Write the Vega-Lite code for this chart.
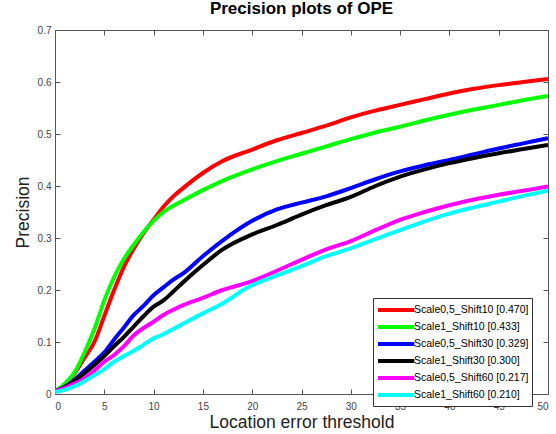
{
  "$schema": "https://vega.github.io/schema/vega-lite/v6.json",
  "autosize": "none",
  "width": 493,
  "height": 364,
  "padding": {"left": 55, "top": 30, "right": 8, "bottom": 40},
  "background": "white",
  "title": {"text": "Precision plots of OPE", "fontSize": 17, "fontWeight": "bold", "font": "Liberation Sans", "color": "#000", "offset": 7, "anchor": "middle"},
  "config": {
    "view": {"stroke": null},
    "font": "Liberation Sans",
    "axis": {"grid": false, "domainColor": "#555", "tickColor": "#555", "labelColor": "#444", "labelFont": "Liberation Sans", "labelFontSize": 10, "titleFont": "Liberation Sans", "titleFontWeight": "normal", "titleFontSize": 17.5, "titleColor": "#222", "tickSize": -5, "domainWidth": 1}
  },
  "data": {"values": [
    {"s":"Scale0,5_Shift10 [0.470]","x":0,"y":0.005},{"s":"Scale0,5_Shift10 [0.470]","x":1,"y":0.018},{"s":"Scale0,5_Shift10 [0.470]","x":2,"y":0.04},{"s":"Scale0,5_Shift10 [0.470]","x":3,"y":0.07},{"s":"Scale0,5_Shift10 [0.470]","x":4,"y":0.1},{"s":"Scale0,5_Shift10 [0.470]","x":5,"y":0.15},{"s":"Scale0,5_Shift10 [0.470]","x":6,"y":0.2},{"s":"Scale0,5_Shift10 [0.470]","x":7,"y":0.245},{"s":"Scale0,5_Shift10 [0.470]","x":8,"y":0.28},{"s":"Scale0,5_Shift10 [0.470]","x":9,"y":0.31},{"s":"Scale0,5_Shift10 [0.470]","x":10,"y":0.335},{"s":"Scale0,5_Shift10 [0.470]","x":11,"y":0.36},{"s":"Scale0,5_Shift10 [0.470]","x":12,"y":0.38},{"s":"Scale0,5_Shift10 [0.470]","x":13,"y":0.396},{"s":"Scale0,5_Shift10 [0.470]","x":15,"y":0.425},{"s":"Scale0,5_Shift10 [0.470]","x":17,"y":0.448},{"s":"Scale0,5_Shift10 [0.470]","x":20,"y":0.47},{"s":"Scale0,5_Shift10 [0.470]","x":22.5,"y":0.488},{"s":"Scale0,5_Shift10 [0.470]","x":25,"y":0.502},{"s":"Scale0,5_Shift10 [0.470]","x":27.5,"y":0.516},{"s":"Scale0,5_Shift10 [0.470]","x":30,"y":0.532},{"s":"Scale0,5_Shift10 [0.470]","x":32.5,"y":0.545},{"s":"Scale0,5_Shift10 [0.470]","x":35,"y":0.556},{"s":"Scale0,5_Shift10 [0.470]","x":37.5,"y":0.567},{"s":"Scale0,5_Shift10 [0.470]","x":40,"y":0.578},{"s":"Scale0,5_Shift10 [0.470]","x":42.5,"y":0.587},{"s":"Scale0,5_Shift10 [0.470]","x":45,"y":0.594},{"s":"Scale0,5_Shift10 [0.470]","x":47.5,"y":0.6},{"s":"Scale0,5_Shift10 [0.470]","x":50,"y":0.606},
    {"s":"Scale1_Shift10 [0.433]","x":0,"y":0.005},{"s":"Scale1_Shift10 [0.433]","x":1,"y":0.02},{"s":"Scale1_Shift10 [0.433]","x":2,"y":0.042},{"s":"Scale1_Shift10 [0.433]","x":3,"y":0.08},{"s":"Scale1_Shift10 [0.433]","x":4,"y":0.125},{"s":"Scale1_Shift10 [0.433]","x":5,"y":0.18},{"s":"Scale1_Shift10 [0.433]","x":6,"y":0.225},{"s":"Scale1_Shift10 [0.433]","x":7,"y":0.26},{"s":"Scale1_Shift10 [0.433]","x":8,"y":0.287},{"s":"Scale1_Shift10 [0.433]","x":9,"y":0.312},{"s":"Scale1_Shift10 [0.433]","x":10,"y":0.333},{"s":"Scale1_Shift10 [0.433]","x":11,"y":0.35},{"s":"Scale1_Shift10 [0.433]","x":12,"y":0.362},{"s":"Scale1_Shift10 [0.433]","x":13,"y":0.372},{"s":"Scale1_Shift10 [0.433]","x":15,"y":0.392},{"s":"Scale1_Shift10 [0.433]","x":17,"y":0.41},{"s":"Scale1_Shift10 [0.433]","x":20,"y":0.432},{"s":"Scale1_Shift10 [0.433]","x":22.5,"y":0.448},{"s":"Scale1_Shift10 [0.433]","x":25,"y":0.462},{"s":"Scale1_Shift10 [0.433]","x":27.5,"y":0.476},{"s":"Scale1_Shift10 [0.433]","x":30,"y":0.49},{"s":"Scale1_Shift10 [0.433]","x":32.5,"y":0.503},{"s":"Scale1_Shift10 [0.433]","x":35,"y":0.514},{"s":"Scale1_Shift10 [0.433]","x":37.5,"y":0.526},{"s":"Scale1_Shift10 [0.433]","x":40,"y":0.537},{"s":"Scale1_Shift10 [0.433]","x":42.5,"y":0.547},{"s":"Scale1_Shift10 [0.433]","x":45,"y":0.556},{"s":"Scale1_Shift10 [0.433]","x":47.5,"y":0.565},{"s":"Scale1_Shift10 [0.433]","x":50,"y":0.573},
    {"s":"Scale0,5_Shift30 [0.329]","x":0,"y":0.005},{"s":"Scale0,5_Shift30 [0.329]","x":1,"y":0.014},{"s":"Scale0,5_Shift30 [0.329]","x":2,"y":0.028},{"s":"Scale0,5_Shift30 [0.329]","x":3,"y":0.045},{"s":"Scale0,5_Shift30 [0.329]","x":4,"y":0.062},{"s":"Scale0,5_Shift30 [0.329]","x":5,"y":0.08},{"s":"Scale0,5_Shift30 [0.329]","x":6,"y":0.105},{"s":"Scale0,5_Shift30 [0.329]","x":7,"y":0.128},{"s":"Scale0,5_Shift30 [0.329]","x":8,"y":0.152},{"s":"Scale0,5_Shift30 [0.329]","x":9,"y":0.17},{"s":"Scale0,5_Shift30 [0.329]","x":10,"y":0.19},{"s":"Scale0,5_Shift30 [0.329]","x":11,"y":0.205},{"s":"Scale0,5_Shift30 [0.329]","x":12,"y":0.22},{"s":"Scale0,5_Shift30 [0.329]","x":13,"y":0.232},{"s":"Scale0,5_Shift30 [0.329]","x":15,"y":0.265},{"s":"Scale0,5_Shift30 [0.329]","x":17,"y":0.295},{"s":"Scale0,5_Shift30 [0.329]","x":20,"y":0.333},{"s":"Scale0,5_Shift30 [0.329]","x":22.5,"y":0.355},{"s":"Scale0,5_Shift30 [0.329]","x":25,"y":0.368},{"s":"Scale0,5_Shift30 [0.329]","x":27.5,"y":0.38},{"s":"Scale0,5_Shift30 [0.329]","x":30,"y":0.396},{"s":"Scale0,5_Shift30 [0.329]","x":32.5,"y":0.413},{"s":"Scale0,5_Shift30 [0.329]","x":35,"y":0.428},{"s":"Scale0,5_Shift30 [0.329]","x":37.5,"y":0.44},{"s":"Scale0,5_Shift30 [0.329]","x":40,"y":0.45},{"s":"Scale0,5_Shift30 [0.329]","x":42.5,"y":0.461},{"s":"Scale0,5_Shift30 [0.329]","x":45,"y":0.472},{"s":"Scale0,5_Shift30 [0.329]","x":47.5,"y":0.482},{"s":"Scale0,5_Shift30 [0.329]","x":50,"y":0.492},
    {"s":"Scale1_Shift30 [0.300]","x":0,"y":0.005},{"s":"Scale1_Shift30 [0.300]","x":1,"y":0.013},{"s":"Scale1_Shift30 [0.300]","x":2,"y":0.025},{"s":"Scale1_Shift30 [0.300]","x":3,"y":0.04},{"s":"Scale1_Shift30 [0.300]","x":4,"y":0.056},{"s":"Scale1_Shift30 [0.300]","x":5,"y":0.073},{"s":"Scale1_Shift30 [0.300]","x":6,"y":0.092},{"s":"Scale1_Shift30 [0.300]","x":7,"y":0.11},{"s":"Scale1_Shift30 [0.300]","x":8,"y":0.13},{"s":"Scale1_Shift30 [0.300]","x":9,"y":0.15},{"s":"Scale1_Shift30 [0.300]","x":10,"y":0.168},{"s":"Scale1_Shift30 [0.300]","x":11,"y":0.18},{"s":"Scale1_Shift30 [0.300]","x":12,"y":0.197},{"s":"Scale1_Shift30 [0.300]","x":13,"y":0.215},{"s":"Scale1_Shift30 [0.300]","x":15,"y":0.248},{"s":"Scale1_Shift30 [0.300]","x":17,"y":0.278},{"s":"Scale1_Shift30 [0.300]","x":20,"y":0.307},{"s":"Scale1_Shift30 [0.300]","x":22.5,"y":0.325},{"s":"Scale1_Shift30 [0.300]","x":25,"y":0.345},{"s":"Scale1_Shift30 [0.300]","x":27.5,"y":0.363},{"s":"Scale1_Shift30 [0.300]","x":30,"y":0.379},{"s":"Scale1_Shift30 [0.300]","x":32.5,"y":0.4},{"s":"Scale1_Shift30 [0.300]","x":35,"y":0.418},{"s":"Scale1_Shift30 [0.300]","x":37.5,"y":0.432},{"s":"Scale1_Shift30 [0.300]","x":40,"y":0.444},{"s":"Scale1_Shift30 [0.300]","x":42.5,"y":0.454},{"s":"Scale1_Shift30 [0.300]","x":45,"y":0.463},{"s":"Scale1_Shift30 [0.300]","x":47.5,"y":0.471},{"s":"Scale1_Shift30 [0.300]","x":50,"y":0.479},
    {"s":"Scale0,5_Shift60 [0.217]","x":0,"y":0.005},{"s":"Scale0,5_Shift60 [0.217]","x":1,"y":0.012},{"s":"Scale0,5_Shift60 [0.217]","x":2,"y":0.02},{"s":"Scale0,5_Shift60 [0.217]","x":3,"y":0.03},{"s":"Scale0,5_Shift60 [0.217]","x":4,"y":0.045},{"s":"Scale0,5_Shift60 [0.217]","x":5,"y":0.062},{"s":"Scale0,5_Shift60 [0.217]","x":6,"y":0.075},{"s":"Scale0,5_Shift60 [0.217]","x":7,"y":0.092},{"s":"Scale0,5_Shift60 [0.217]","x":8,"y":0.113},{"s":"Scale0,5_Shift60 [0.217]","x":9,"y":0.127},{"s":"Scale0,5_Shift60 [0.217]","x":10,"y":0.139},{"s":"Scale0,5_Shift60 [0.217]","x":11,"y":0.152},{"s":"Scale0,5_Shift60 [0.217]","x":12,"y":0.162},{"s":"Scale0,5_Shift60 [0.217]","x":13,"y":0.171},{"s":"Scale0,5_Shift60 [0.217]","x":15,"y":0.185},{"s":"Scale0,5_Shift60 [0.217]","x":17,"y":0.2},{"s":"Scale0,5_Shift60 [0.217]","x":20,"y":0.217},{"s":"Scale0,5_Shift60 [0.217]","x":22.5,"y":0.237},{"s":"Scale0,5_Shift60 [0.217]","x":25,"y":0.258},{"s":"Scale0,5_Shift60 [0.217]","x":27.5,"y":0.278},{"s":"Scale0,5_Shift60 [0.217]","x":30,"y":0.294},{"s":"Scale0,5_Shift60 [0.217]","x":32.5,"y":0.315},{"s":"Scale0,5_Shift60 [0.217]","x":35,"y":0.335},{"s":"Scale0,5_Shift60 [0.217]","x":37.5,"y":0.35},{"s":"Scale0,5_Shift60 [0.217]","x":40,"y":0.363},{"s":"Scale0,5_Shift60 [0.217]","x":42.5,"y":0.374},{"s":"Scale0,5_Shift60 [0.217]","x":45,"y":0.383},{"s":"Scale0,5_Shift60 [0.217]","x":47.5,"y":0.391},{"s":"Scale0,5_Shift60 [0.217]","x":50,"y":0.399},
    {"s":"Scale1_Shift60 [0.210]","x":0,"y":0.004},{"s":"Scale1_Shift60 [0.210]","x":1,"y":0.008},{"s":"Scale1_Shift60 [0.210]","x":2,"y":0.015},{"s":"Scale1_Shift60 [0.210]","x":3,"y":0.025},{"s":"Scale1_Shift60 [0.210]","x":4,"y":0.036},{"s":"Scale1_Shift60 [0.210]","x":5,"y":0.048},{"s":"Scale1_Shift60 [0.210]","x":6,"y":0.062},{"s":"Scale1_Shift60 [0.210]","x":7,"y":0.073},{"s":"Scale1_Shift60 [0.210]","x":8,"y":0.083},{"s":"Scale1_Shift60 [0.210]","x":9,"y":0.095},{"s":"Scale1_Shift60 [0.210]","x":10,"y":0.107},{"s":"Scale1_Shift60 [0.210]","x":11,"y":0.115},{"s":"Scale1_Shift60 [0.210]","x":12,"y":0.125},{"s":"Scale1_Shift60 [0.210]","x":13,"y":0.135},{"s":"Scale1_Shift60 [0.210]","x":15,"y":0.155},{"s":"Scale1_Shift60 [0.210]","x":17,"y":0.174},{"s":"Scale1_Shift60 [0.210]","x":18,"y":0.186},{"s":"Scale1_Shift60 [0.210]","x":19,"y":0.199},{"s":"Scale1_Shift60 [0.210]","x":20,"y":0.209},{"s":"Scale1_Shift60 [0.210]","x":22.5,"y":0.228},{"s":"Scale1_Shift60 [0.210]","x":25,"y":0.246},{"s":"Scale1_Shift60 [0.210]","x":27.5,"y":0.265},{"s":"Scale1_Shift60 [0.210]","x":30,"y":0.28},{"s":"Scale1_Shift60 [0.210]","x":32.5,"y":0.298},{"s":"Scale1_Shift60 [0.210]","x":35,"y":0.315},{"s":"Scale1_Shift60 [0.210]","x":37.5,"y":0.332},{"s":"Scale1_Shift60 [0.210]","x":40,"y":0.347},{"s":"Scale1_Shift60 [0.210]","x":42.5,"y":0.359},{"s":"Scale1_Shift60 [0.210]","x":45,"y":0.37},{"s":"Scale1_Shift60 [0.210]","x":47.5,"y":0.381},{"s":"Scale1_Shift60 [0.210]","x":50,"y":0.391}
  ]},
  "layer": [
    {
      "mark": {"type": "line", "strokeWidth": 4, "interpolate": "monotone", "clip": true},
      "encoding": {
        "x": {"field": "x", "type": "quantitative", "scale": {"domain": [0, 50], "nice": false}, "axis": {"values": [0,5,10,15,20,25,30,35,40,45,50], "title": "Location error threshold", "labelPadding": 12, "titlePadding": 2}},
        "y": {"field": "y", "type": "quantitative", "scale": {"domain": [0, 0.7], "nice": false}, "axis": {"values": [0,0.1,0.2,0.3,0.4,0.5,0.6,0.7], "format": "~g", "title": "Precision", "labelPadding": 9, "titlePadding": 5}},
        "color": {"field": "s", "type": "nominal",
          "scale": {"domain": ["Scale0,5_Shift10 [0.470]","Scale1_Shift10 [0.433]","Scale0,5_Shift30 [0.329]","Scale1_Shift30 [0.300]","Scale0,5_Shift60 [0.217]","Scale1_Shift60 [0.210]"], "range": ["#ff0000","#00ff00","#0000ff","#000000","#ff00ff","#00ffff"]},
          "legend": {"title": null, "orient": "none", "legendX": 318, "legendY": 268, "symbolType": "M-1,0H4.2", "symbolSize": 196, "symbolStrokeWidth": 4, "labelFontSize": 10.5, "labelFont": "Liberation Sans", "labelColor": "#000", "labelOffset": 20, "rowPadding": 0, "strokeColor": "#333", "fillColor": "white", "padding": 3}
        }
      }
    },
    {
      "mark": {"type": "rule", "opacity": 0},
      "encoding": {
        "x": {"field": "x", "type": "quantitative", "axis": {"orient": "top", "values": [0,5,10,15,20,25,30,35,40,45,50], "labels": false, "title": null}},
        "y": {"field": "y", "type": "quantitative", "axis": {"orient": "right", "values": [0,0.1,0.2,0.3,0.4,0.5,0.6,0.7], "labels": false, "title": null}}
      }
    }
  ],
  "resolve": {"axis": {"x": "independent", "y": "independent"}}
}
